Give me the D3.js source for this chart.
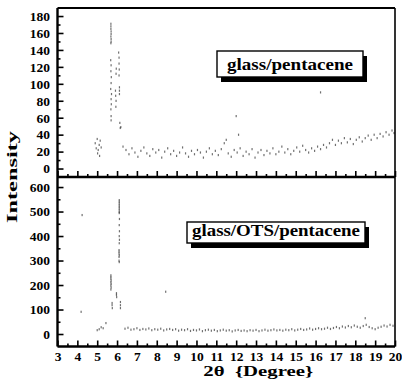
<!DOCTYPE html>
<html><head><meta charset="utf-8">
<script src="https://cdn.jsdelivr.net/npm/d3@7"></script>
<style>
body{margin:0;background:#fff}
svg{display:block}
text{font-family:"Liberation Serif","Times New Roman",serif;font-weight:bold;fill:#000}
</style>
</head><body>
<svg id="c" width="402" height="384"></svg>
<script>
// ---------- data ----------
const xTickLabels = [3,4,5,6,7,8,9,10,11,12,13,14,15,16,17,18,19,20];
const xMinorTicks = [3.5,4.5,5.5,6.5,7.5,8.5,9.5,10.5,11.5,12.5,13.5,14.5,15.5,16.5,17.5,18.5,19.5];
const topTickLabels = [0,20,40,60,80,100,120,140,160,180];
const topMinorTicks = [10,30,50,70,90,110,130,150,170];
const bottomTickLabels = [0,100,200,300,400,500,600];
const bottomMinorTicks = [50,150,250,350,450,550];

// glass/pentacene  [2θ, intensity]
const topPeak = [
  [4.9,30],[4.95,24],[5.0,35],[5.02,18],[5.05,22],[5.1,28],[5.12,15],[5.15,33],[5.2,25],
  [5.69,171],[5.69,168],[5.69,165],[5.7,162],[5.7,159],[5.69,156],[5.7,153],[5.7,150],[5.69,148],
  [5.68,128],[5.7,122],[5.69,115],[5.71,108],[5.7,101],[5.68,94],[5.72,88],[5.7,82],[5.71,76],[5.69,70],[5.7,62],[5.7,57],
  [6.08,137],[6.1,131],[6.1,124],[6.11,117],[6.1,110],[5.96,118],[5.95,112],
  [5.92,92],[5.93,86],[5.95,80],[5.94,73],[6.12,96],[6.12,92],[6.12,88],[6.14,54],[6.16,48],[6.19,49]
];
const topBase = [
  [6.3,26],[6.45,22],[6.6,17],[6.75,24],[6.9,19],[7.05,14],[7.2,21],[7.35,25],[7.5,18],[7.65,15],
  [7.8,23],[7.95,19],[8.1,22],[8.25,13],[8.4,20],[8.55,24],[8.7,17],[8.85,21],[9.0,15],[9.15,19],
  [9.3,25],[9.45,18],[9.6,14],[9.75,21],[9.9,17],[10.05,22],[10.2,19],[10.35,13],[10.5,20],[10.65,24],
  [10.8,17],[10.95,21],[11.1,16],[11.25,23],[11.4,30],[11.5,34],[11.6,18],[11.75,14],[11.9,22],[12.05,19],
  [12.12,40],[12.2,24],[12.35,15],[12.5,20],[12.65,17],[12.8,23],[12.95,13],[13.1,19],[13.25,22],[13.4,16],
  [13.55,21],[13.7,18],[13.85,24],[14.0,17],[14.15,20],[14.3,26],[14.45,19],[14.6,23],[14.75,17],[14.9,21],
  [15.05,25],[15.2,20],[15.35,27],[15.5,22],[15.65,19],[15.8,24],[15.95,21],[16.1,26],[16.25,23],[16.4,28],
  [16.55,25],[16.7,30],[16.85,34],[17.0,28],[17.15,33],[17.3,30],[17.45,36],[17.6,31],[17.75,35],[17.9,29],
  [18.05,34],[18.2,37],[18.35,32],[18.5,36],[18.65,39],[18.8,34],[18.95,40],[19.1,36],[19.25,41],[19.4,38],
  [19.55,43],[19.7,40],[19.85,45],[19.95,42],[12.0,62],[16.25,90]
];

// glass/OTS/pentacene  [2θ, intensity]
const bottomPeak = [
  [5.0,16],[5.1,20],[5.2,28],[5.3,24],[5.44,45],[4.19,91],[4.24,486],[8.45,173],[18.5,65],
  [5.69,240],[5.69,233],[5.69,226],[5.7,219],[5.69,212],[5.7,205],[5.69,198],[5.7,190],[5.69,182],
  [5.75,127],[5.75,118],[5.76,106],[5.97,167],[5.97,160],[5.98,151],
  [6.11,547],[6.11,540],[6.11,533],[6.11,526],[6.11,519],[6.11,512],[6.11,505],[6.11,498],[6.11,494],
  [6.12,470],[6.11,445],[6.12,420],[6.11,400],[6.12,385],[6.11,371],
  [6.1,343],[6.1,336],[6.1,329],[6.11,322],[6.1,315],[6.1,300],[6.11,294],
  [6.17,131],[6.17,118],[6.17,106]
];
const bottomBase = [
  [6.4,22],[6.55,26],[6.7,18],[6.85,20],[7.0,24],[7.15,17],[7.3,21],[7.45,19],[7.6,23],[7.75,16],
  [7.9,20],[8.05,18],[8.2,22],[8.35,15],[8.5,19],[8.65,21],[8.8,17],[8.95,20],[9.1,14],[9.25,18],
  [9.4,16],[9.55,20],[9.7,13],[9.85,17],[10.0,15],[10.15,19],[10.3,12],[10.45,16],[10.6,18],[10.75,14],
  [10.9,17],[11.05,12],[11.2,15],[11.35,18],[11.5,14],[11.65,16],[11.8,11],[11.95,15],[12.1,17],[12.25,13],
  [12.4,15],[12.55,12],[12.7,16],[12.85,14],[13.0,17],[13.15,12],[13.3,15],[13.45,18],[13.6,14],[13.75,16],
  [13.9,19],[14.05,15],[14.2,17],[14.35,14],[14.5,18],[14.65,16],[14.8,20],[14.95,15],[15.1,18],[15.25,21],
  [15.4,17],[15.55,19],[15.7,23],[15.85,18],[16.0,21],[16.15,24],[16.3,20],[16.45,22],[16.6,26],[16.75,21],
  [16.9,25],[17.05,29],[17.2,24],[17.35,31],[17.5,27],[17.65,33],[17.8,28],[17.95,35],[18.1,30],[18.25,26],
  [18.4,33],[18.55,38],[18.7,29],[18.85,24],[19.0,20],[19.15,26],[19.3,30],[19.45,35],[19.6,31],[19.75,38],[19.9,34]
];

const topLabel = "glass/pentacene";
const bottomLabel = "glass/OTS/pentacene";
const xTitle = "2\u03b8  {Degree}";
const yTitle = "Intensity";

// ---------- drawing ----------
const FONT = '"Liberation Serif","Times New Roman",serif';
const svg = d3.select("#c");
const x = d3.scaleLinear().domain([3,20]).range([57.5,395]);
const yTop = d3.scaleLinear().domain([-10,189.5]).range([177,8]);
const yBot = d3.scaleLinear().domain([-51,641]).range([346.5,177]);

function drawPoints(data, y){
  svg.append("g").selectAll("rect").data(data).join("rect")
    .attr("x", d => x(d[0]) - 0.6)
    .attr("y", d => y(d[1]) - 1)
    .attr("width", 1.2).attr("height", 2.2)
    .attr("fill", "#333").attr("fill-opacity", 0.7);
}
drawPoints(topBase, yTop); drawPoints(topPeak, yTop);
drawPoints(bottomBase, yBot); drawPoints(bottomPeak, yBot);

function styleAxis(g){
  g.attr("font-family", FONT).attr("font-weight","bold");
  g.select(".domain").remove();
  g.selectAll(".tick line").attr("stroke","#000").attr("stroke-width",1.6);
  g.selectAll(".tick text").style("font-family", FONT).style("font-weight","bold").style("font-size","13.5px");
}
// y axes
svg.append("g").attr("transform","translate(57.5,0)")
  .call(d3.axisLeft(yTop).tickValues(topTickLabels).tickSize(-6).tickPadding(7.5)).call(styleAxis);
svg.append("g").attr("transform","translate(57.5,0)")
  .call(d3.axisLeft(yTop).tickValues(topMinorTicks).tickSize(-3).tickFormat("")).call(styleAxis);
svg.append("g").attr("transform","translate(57.5,0)")
  .call(d3.axisLeft(yBot).tickValues(bottomTickLabels).tickSize(-6).tickPadding(7.5)).call(styleAxis);
svg.append("g").attr("transform","translate(57.5,0)")
  .call(d3.axisLeft(yBot).tickValues(bottomMinorTicks).tickSize(-3).tickFormat("")).call(styleAxis);
// x axes
svg.append("g").attr("transform","translate(0,346.5)")
  .call(d3.axisBottom(x).tickValues(xTickLabels).tickSize(-6).tickPadding(5.3)).call(styleAxis);
svg.append("g").attr("transform","translate(0,346.5)")
  .call(d3.axisBottom(x).tickValues(xMinorTicks).tickSize(-3).tickFormat("")).call(styleAxis);
svg.append("g").attr("transform","translate(0,177)")
  .call(d3.axisBottom(x).tickValues(xTickLabels).tickSize(-6).tickFormat("")).call(styleAxis);
svg.append("g").attr("transform","translate(0,177)")
  .call(d3.axisBottom(x).tickValues(xMinorTicks).tickSize(-3).tickFormat("")).call(styleAxis);

// frame
const L = x.range()[0], R = x.range()[1];
const frame = svg.append("g").attr("stroke","#000").attr("fill","none");
frame.append("line").attr("x1",L).attr("x2",L).attr("y1",yTop.range()[1]).attr("y2",yBot.range()[0]).attr("stroke-width",2.4);
frame.append("line").attr("x1",R).attr("x2",R).attr("y1",yTop.range()[1]).attr("y2",yBot.range()[0]).attr("stroke-width",1.6);
frame.append("line").attr("x1",L).attr("x2",R).attr("y1",yTop.range()[1]).attr("y2",yTop.range()[1]).attr("stroke-width",2);
frame.append("line").attr("x1",L).attr("x2",R).attr("y1",yTop.range()[0]).attr("y2",yTop.range()[0]).attr("stroke-width",2.4);
frame.append("line").attr("x1",L).attr("x2",R).attr("y1",yBot.range()[0]).attr("y2",yBot.range()[0]).attr("stroke-width",2.4);

// label boxes
function labelBox(text, x0, y0, w, h, tl){
  const g = svg.append("g");
  g.append("rect").attr("x",x0+4).attr("y",y0+5).attr("width",w).attr("height",h).attr("fill","#000");
  g.append("rect").attr("x",x0).attr("y",y0).attr("width",w).attr("height",h)
    .attr("fill","#fff").attr("stroke","#000").attr("stroke-width",1.4);
  g.append("text").attr("x",x0+w/2).attr("y",y0+h-7.5).attr("text-anchor","middle")
    .attr("textLength",tl).attr("lengthAdjust","spacingAndGlyphs")
    .style("font-family", FONT).style("font-size","16.5px").text(text);
}
labelBox(topLabel, 217, 51, 146, 26, 126);
labelBox(bottomLabel, 187, 222, 178, 21, 168);

// titles
svg.append("text").attr("x",(L+R)/2+32).attr("y",376).attr("text-anchor","middle")
  .attr("textLength",110).attr("lengthAdjust","spacingAndGlyphs")
  .style("font-family", FONT).style("font-size","15px").style("white-space","pre").text(xTitle);
svg.append("text").attr("transform","translate(17,177) rotate(-90)").attr("text-anchor","middle")
  .attr("textLength",92).attr("lengthAdjust","spacingAndGlyphs")
  .style("font-family", FONT).style("font-size","15px").text(yTitle);
</script>
</body></html>
